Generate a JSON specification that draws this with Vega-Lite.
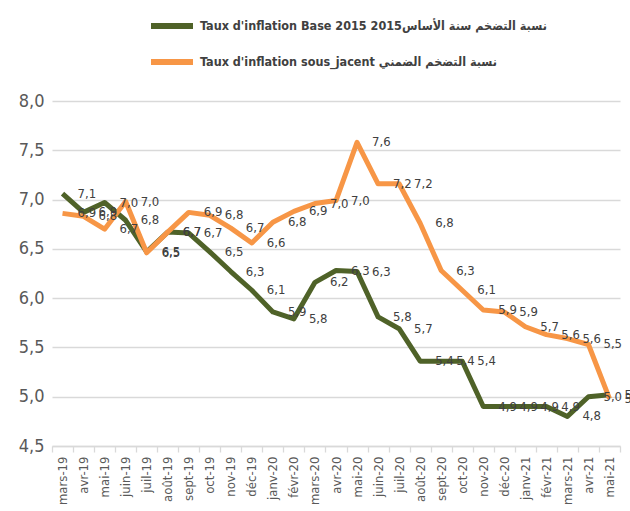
{
  "$schema": "https://vega.github.io/schema/vega-lite/v6.json",
  "autosize": {"type": "none"},
  "padding": {"left": 52, "top": 101, "right": 10, "bottom": 65},
  "width": 568,
  "height": 345,
  "config": {
    "locale": {"number": {"decimal": ",", "thousands": " ", "grouping": [3], "currency": ["", " €"]}},
    "view": {"stroke": null},
    "font": "DejaVu Sans Condensed, Roboto, sans-serif"
  },
  "datasets": {
    "inflation": [
      {"month": "mars-19", "series": "base", "value": 7.06},
      {"month": "avr-19", "series": "base", "value": 6.87},
      {"month": "mai-19", "series": "base", "value": 6.97},
      {"month": "juin-19", "series": "base", "value": 6.79},
      {"month": "juil-19", "series": "base", "value": 6.47},
      {"month": "août-19", "series": "base", "value": 6.67},
      {"month": "sept-19", "series": "base", "value": 6.66},
      {"month": "oct-19", "series": "base", "value": 6.47},
      {"month": "nov-19", "series": "base", "value": 6.27},
      {"month": "déc-19", "series": "base", "value": 6.08},
      {"month": "janv-20", "series": "base", "value": 5.86},
      {"month": "févr-20", "series": "base", "value": 5.79},
      {"month": "mars-20", "series": "base", "value": 6.16},
      {"month": "avr-20", "series": "base", "value": 6.28},
      {"month": "mai-20", "series": "base", "value": 6.27},
      {"month": "juin-20", "series": "base", "value": 5.81},
      {"month": "juil-20", "series": "base", "value": 5.69},
      {"month": "août-20", "series": "base", "value": 5.36},
      {"month": "sept-20", "series": "base", "value": 5.36},
      {"month": "oct-20", "series": "base", "value": 5.36},
      {"month": "nov-20", "series": "base", "value": 4.9},
      {"month": "déc-20", "series": "base", "value": 4.9},
      {"month": "janv-21", "series": "base", "value": 4.9},
      {"month": "févr-21", "series": "base", "value": 4.9},
      {"month": "mars-21", "series": "base", "value": 4.8},
      {"month": "avr-21", "series": "base", "value": 5.0},
      {"month": "mai-21", "series": "base", "value": 5.02},
      {"month": "mars-19", "series": "sous", "value": 6.86},
      {"month": "avr-19", "series": "sous", "value": 6.83},
      {"month": "mai-19", "series": "sous", "value": 6.7},
      {"month": "juin-19", "series": "sous", "value": 6.98},
      {"month": "juil-19", "series": "sous", "value": 6.46},
      {"month": "août-19", "series": "sous", "value": 6.67},
      {"month": "sept-19", "series": "sous", "value": 6.87},
      {"month": "oct-19", "series": "sous", "value": 6.84},
      {"month": "nov-19", "series": "sous", "value": 6.71},
      {"month": "déc-19", "series": "sous", "value": 6.56},
      {"month": "janv-20", "series": "sous", "value": 6.77},
      {"month": "févr-20", "series": "sous", "value": 6.88},
      {"month": "mars-20", "series": "sous", "value": 6.96},
      {"month": "avr-20", "series": "sous", "value": 6.99},
      {"month": "mai-20", "series": "sous", "value": 7.58},
      {"month": "juin-20", "series": "sous", "value": 7.16},
      {"month": "juil-20", "series": "sous", "value": 7.16},
      {"month": "août-20", "series": "sous", "value": 6.76},
      {"month": "sept-20", "series": "sous", "value": 6.28},
      {"month": "oct-20", "series": "sous", "value": 6.08},
      {"month": "nov-20", "series": "sous", "value": 5.88},
      {"month": "déc-20", "series": "sous", "value": 5.86},
      {"month": "janv-21", "series": "sous", "value": 5.71},
      {"month": "févr-21", "series": "sous", "value": 5.63},
      {"month": "mars-21", "series": "sous", "value": 5.59},
      {"month": "avr-21", "series": "sous", "value": 5.53},
      {"month": "mai-21", "series": "sous", "value": 4.98}
    ]
  },
  "data": {"name": "inflation"},
  "transform": [
    {"lookup": "series", "from": {"data": {"values": [
      {"series": "base", "name": "Taux d'inflation Base 2015 نسبة التضخم سنة الأساس2015", "ord": 0},
      {"series": "sous", "name": "Taux d'inflation sous_jacent نسبة التضخم الضمني", "ord": 1}
    ]}, "key": "series", "fields": ["name", "ord"]}}
  ],
  "encoding": {
    "x": {
      "field": "month", "type": "ordinal", "sort": null, "bandPosition": 0.5,
      "scale": {"type": "band", "paddingInner": 0, "paddingOuter": 0},
      "axis": {
        "title": null, "labelAngle": -90, "labelAlign": "right", "labelBaseline": "middle",
        "labelFontSize": 13, "labelColor": "#595959", "labelPadding": 4,
        "domainColor": "#d9d9d9", "domainWidth": 1.3, "tickColor": "#d9d9d9", "tickWidth": 1.3,
        "tickSize": 6, "tickBand": "extent", "grid": false
      }
    },
    "y": {
      "field": "value", "type": "quantitative",
      "scale": {"domain": [4.5, 8.0], "nice": false, "zero": false},
      "axis": {
        "title": null, "values": [4.5, 5.0, 5.5, 6.0, 6.5, 7.0, 7.5, 8.0], "format": ".1f",
        "labelFontSize": 18, "labelColor": "#595959", "labelPadding": 8,
        "domain": false, "ticks": false, "grid": true, "gridColor": "#d9d9d9", "gridWidth": 1.5
      }
    }
  },
  "layer": [
    {
      "mark": {"type": "line", "strokeWidth": 5, "strokeJoin": "round"},
      "encoding": {
        "color": {
          "field": "name", "type": "nominal",
          "sort": ["Taux d'inflation Base 2015 نسبة التضخم سنة الأساس2015", "Taux d'inflation sous_jacent نسبة التضخم الضمني"],
          "scale": {"range": ["#4F6228", "#F79646"]},
          "legend": {
            "title": null, "orient": "none", "legendX": 96, "legendY": -99, "direction": "vertical",
            "symbolType": "stroke", "symbolStrokeWidth": 6, "symbolSize": 1764,
            "labelFontSize": 12.5, "labelFontWeight": "bold", "labelColor": "#404040",
            "labelOffset": 4, "rowPadding": -16, "labelLimit": 400
          }
        },
        "order": {"field": "ord"}
      }
    },
    {
      "mark": {"type": "text", "align": "left", "baseline": "middle", "dx": 15, "fontSize": 13, "color": "#404040"},
      "encoding": {
        "text": {"field": "value", "type": "quantitative", "format": ".1f"}
      }
    }
  ]
}
